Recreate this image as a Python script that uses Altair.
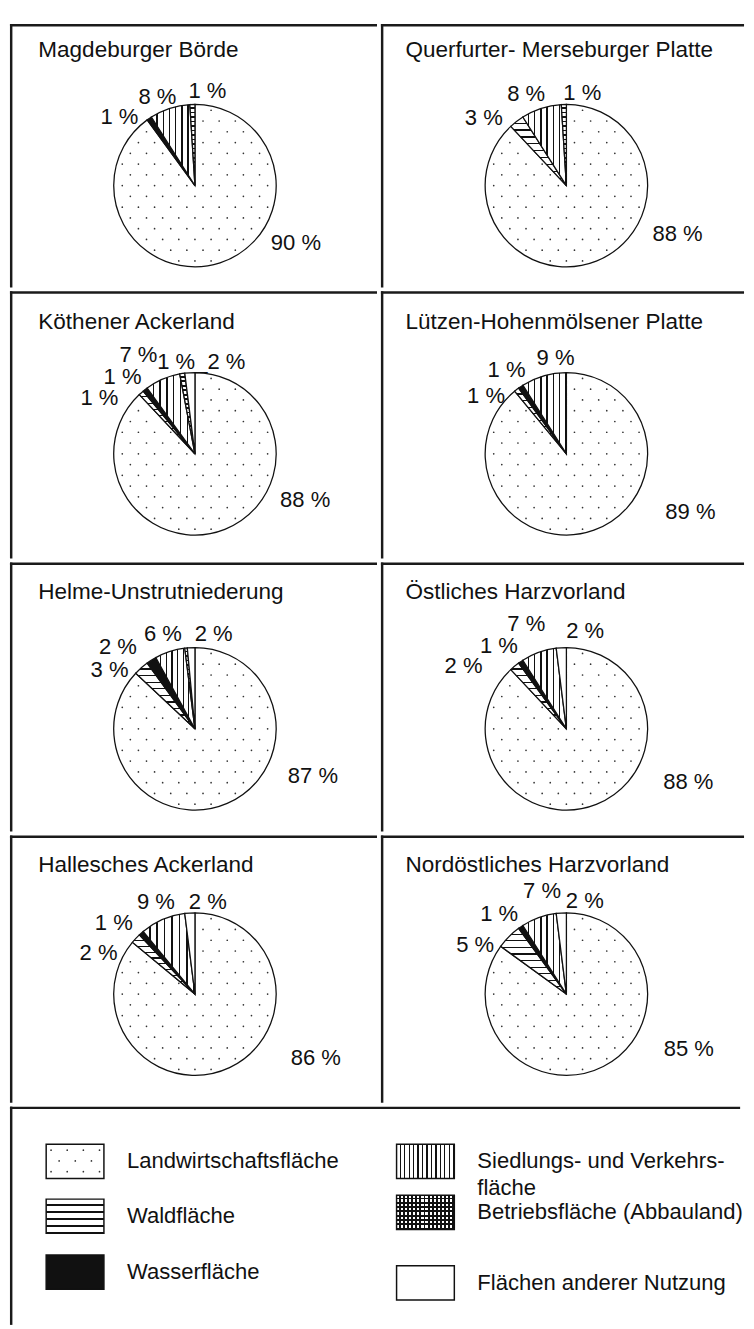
import altair as alt
import pandas as pd

FONT = "Liberation Sans"

regions = [
    "Magdeburger Börde",
    "Querfurter- Merseburger Platte",
    "Köthener Ackerland",
    "Lützen-Hohenmölsener Platte",
    "Helme-Unstrutniederung",
    "Östliches Harzvorland",
    "Hallesches Ackerland",
    "Nordöstliches Harzvorland",
]

categories = [
    "Landwirtschaftsfläche",
    "Waldfläche",
    "Wasserfläche",
    "Siedlungs- und Verkehrsfläche",
    "Betriebsfläche (Abbauland)",
    "Flächen anderer Nutzung",
]

legend_texts = [
    "Landwirtschaftsfläche",
    "Waldfläche",
    "Wasserfläche",
    "Siedlungs- und Verkehrs-\nfläche",
    "Betriebsfläche (Abbauland)",
    "Flächen anderer Nutzung",
]

# shares in percent, in category order
values = {
    "Magdeburger Börde":              [90, 0, 1, 8, 1, 0],
    "Querfurter- Merseburger Platte": [88, 3, 0, 8, 1, 0],
    "Köthener Ackerland":             [88, 1, 1, 7, 1, 2],
    "Lützen-Hohenmölsener Platte":    [89, 1, 1, 9, 0, 0],
    "Helme-Unstrutniederung":         [87, 3, 2, 6, 0.5, 1.5],
    "Östliches Harzvorland":          [88, 2, 1, 7, 0, 2],
    "Hallesches Ackerland":           [86, 2, 1, 9, 0, 2],
    "Nordöstliches Harzvorland":      [85, 5, 1, 7, 0, 2],
}

labels = {
    "Magdeburger Börde":              ["90 %", "", "1 %", "8 %", "1 %", ""],
    "Querfurter- Merseburger Platte": ["88 %", "3 %", "", "8 %", "1 %", ""],
    "Köthener Ackerland":             ["88 %", "1 %", "1 %", "7 %", "1 %", "_2 %"],
    "Lützen-Hohenmölsener Platte":    ["89 %", "1 %", "1 %", "9 %", "", ""],
    "Helme-Unstrutniederung":         ["87 %", "3 %", "2 %", "6 %", "", "2 %"],
    "Östliches Harzvorland":          ["88 %", "2 %", "1 %", "7 %", "", "2 %"],
    "Hallesches Ackerland":           ["86 %", "2 %", "1 %", "9 %", "", "2 %"],
    "Nordöstliches Harzvorland":      ["85 %", "5 %", "1 %", "7 %", "", "2 %"],
}

# label placement (angle in percent of the circle, distance from centre in px)
label_layout = {
    "Magdeburger Börde":              [(33.3, 119), None, (86.7, 104), (93.6, 98), (2.1, 97), None],
    "Querfurter- Merseburger Platte": [(31.6, 124), (85.9, 109), None, (93.4, 102), (2.7, 96), None],
    "Köthener Ackerland":             [(31.3, 122), (83.4, 113), (88.0, 108), (91.7, 116), (96.8, 96), (4.3, 97)],
    "Lützen-Hohenmölsener Platte":    [(32.0, 140), (84.9, 101), (90.1, 105), (98.2, 98), None, None],
    "Helme-Unstrutniederung":         [(31.1, 130), (84.6, 106), (88.0, 115), (94.8, 102), None, (3.1, 99)],
    "Östliches Harzvorland":          [(31.6, 136), (83.7, 123), (89.1, 109), (94.2, 115), None, (3.0, 102)],
    "Hallesches Ackerland":           [(32.8, 140), (81.4, 107), (86.4, 110), (93.6, 102), None, (2.2, 95)],
    "Nordöstliches Harzvorland":      [(31.7, 137), (82.9, 106), (88.9, 107), (96.3, 108), None, (3.1, 97)],
}

rows = []
for reg in regions:
    for k, cat in enumerate(categories):
        lay = label_layout[reg][k]
        rows.append({
            "region": reg, "cat": cat, "k": k,
            "value": values[reg][k],
            "label": labels[reg][k],
            "lpos": lay[0] if lay else 0,
            "lrad": lay[1] if lay else 0,
        })
df = pd.DataFrame(rows)

# panel layout
COL_W = [375, 371]
COL_CX = [189, 189.5]
COL_TITLE_X = [29, 25]
ROW_H = [269, 273, 275, 273]
ROW_CY = [165, 166, 170, 162]
ROW_TITLE_Y = [34, 38, 37, 37]
R = 83
SW = 2.5
LINE = "#1a1a1a"
INK = "#111111"


def stripes(along_x, n, frac, bg="white"):
    stops = []
    for i in range(n):
        a = i / n
        b = (i + 1 - frac) / n
        c = (i + 1) / n
        stops += [
            {"offset": a, "color": bg},
            {"offset": b, "color": bg},
            {"offset": b, "color": INK},
            {"offset": c, "color": INK},
        ]
    return {
        "gradient": "linear",
        "x1": 0, "y1": 0,
        "x2": 1 if along_x else 0,
        "y2": 0 if along_x else 1,
        "stops": stops,
    }


def fill_spec(wald, sied, betr):
    return {
        "condition": [
            {"test": "datum.k === 1", "value": wald},
            {"test": "datum.k === 2", "value": INK},
            {"test": "datum.k === 3", "value": sied},
            {"test": "datum.k === 4", "value": betr},
        ],
        "value": "white",
    }


theta_scale = alt.Scale(domain=[0, 100])
pie_fill = fill_spec(stripes(False, 10, 0.18), stripes(True, 7, 0.2), stripes(False, 18, 0.4))

# dotted texture of the agricultural share (pattern grid)
DOT_COLS, DOT_ROWS, DOT_SX, DOT_SY = 12, 17, 16.5, 11


def frame(w, h, data):
    left = alt.Chart(data).mark_rule(strokeWidth=SW, color=LINE).encode(
        x=alt.value(SW / 2), y=alt.value(0), y2=alt.value(h)
    ).transform_aggregate(n="count()")
    top = alt.Chart(data).mark_rule(strokeWidth=SW, color=LINE).encode(
        x=alt.value(0), x2=alt.value(w), y=alt.value(SW / 2)
    ).transform_aggregate(n="count()")
    return [left, top]


def panel(reg, col, row):
    sel = alt.FieldEqualPredicate(field="region", equal=reg)
    landw_deg = values[reg][0] * 3.6
    cx, cy, w, h = COL_CX[col], ROW_CY[row], COL_W[col], ROW_H[row]

    arcs = alt.Chart(df).mark_arc(radius=R, stroke=INK, strokeWidth=1.3).encode(
        theta=alt.Theta("start:Q", stack=False, scale=theta_scale),
        theta2=alt.Theta2("end:Q"),
        x=alt.value(cx),
        y=alt.value(cy),
        fill=pie_fill,
    ).transform_filter(sel).transform_window(
        end="sum(value)", sort=[alt.SortField("k")], frame=[None, 0]
    ).transform_calculate(
        start="datum.end - datum.value"
    ).transform_filter("datum.value > 0")

    dots = alt.Chart(alt.sequence(0, DOT_COLS * DOT_ROWS, as_="i")).mark_circle(
        size=3, color="#333", opacity=1
    ).encode(
        x=alt.X("px:Q", scale=None, axis=None),
        y=alt.Y("py:Q", scale=None, axis=None),
    ).transform_calculate(
        row=f"floor(datum.i / {DOT_COLS})", col=f"datum.i % {DOT_COLS}"
    ).transform_calculate(
        dx=f"-90.75 + datum.col * {DOT_SX} + (datum.row % 2) * {DOT_SX / 2}",
        dy=f"-88 + datum.row * {DOT_SY}",
    ).transform_calculate(
        rr="sqrt(datum.dx * datum.dx + datum.dy * datum.dy)",
        ang="(atan2(datum.dx, -datum.dy) * 180 / PI + 360) % 360",
        px=f"datum.dx + {cx}",
        py=f"datum.dy + {cy}",
    ).transform_filter(
        f"datum.rr < {R - 3} && datum.rr > 5 && datum.ang > 2 && datum.ang < {landw_deg - 3}"
    )

    pct = alt.Chart(df).mark_text(fontSize=22.5, font=FONT, color=INK).encode(
        theta=alt.Theta("lpos:Q", stack=False, scale=theta_scale),
        radius=alt.Radius("lrad:Q", scale=None),
        text="label:N",
        x=alt.value(cx),
        y=alt.value(cy),
    ).transform_filter(sel).transform_filter("datum.label != ''")

    title = alt.Chart(df).mark_text(
        align="left", baseline="alphabetic", fontSize=23, font=FONT, color=INK
    ).encode(
        x=alt.value(COL_TITLE_X[col]), y=alt.value(ROW_TITLE_Y[row]), text="region:N"
    ).transform_filter(sel).transform_aggregate(n="count()", groupby=["region"])

    return alt.layer(arcs, dots, pct, title, *frame(w, h, df)).properties(
        width=w, height=h
    )


grid_rows = []
for r in range(4):
    grid_rows.append(
        alt.hconcat(panel(regions[2 * r], 0, r), panel(regions[2 * r + 1], 1, r), spacing=0)
    )

# legend box
LW, LH = sum(COL_W), 223
BOX_W, BOX_H = 59, 35
legend_box_x = [37, 37, 37, 395, 395, 395]
legend_row_y = [56, 112, 169, 56, 108, 180]
leg_df = pd.DataFrame({
    "cat": categories,
    "k": list(range(6)),
    "ltext": legend_texts,
    "lx": legend_box_x,
    "ly": legend_row_y,
})

box_tf = dict(
    x0="datum.lx", x1=f"datum.lx + {BOX_W}",
    y0=f"datum.ly - {BOX_H / 2}", y1=f"datum.ly + {BOX_H / 2}",
)

leg_rects = alt.Chart(leg_df).mark_rect(stroke=INK, strokeWidth=1.5).encode(
    x=alt.X("x0:Q", scale=None, axis=None),
    x2="x1:Q",
    y=alt.Y("y0:Q", scale=None, axis=None),
    y2="y1:Q",
    fill=fill_spec(stripes(False, 5, 0.22), stripes(True, 13, 0.3), stripes(True, 14, 0.45)),
).transform_calculate(**box_tf)

leg_cross = alt.Chart(leg_df).mark_rect().encode(
    x=alt.X("x0:Q", scale=None, axis=None),
    x2="x1:Q",
    y=alt.Y("y0:Q", scale=None, axis=None),
    y2="y1:Q",
    fill=alt.value(stripes(False, 8, 0.45, bg="rgba(255,255,255,0)")),
).transform_filter("datum.k === 4").transform_calculate(**box_tf)

leg_dots = alt.Chart(alt.sequence(0, 12, as_="i")).mark_circle(
    size=3, color="#333", opacity=1
).encode(
    x=alt.X("px:Q", scale=None, axis=None),
    y=alt.Y("py:Q", scale=None, axis=None),
).transform_calculate(
    row="floor(datum.i / 4)", col="datum.i % 4"
).transform_calculate(
    px=f"{legend_box_x[0]} + 5 + datum.col * {DOT_SX} + (datum.row % 2) * {DOT_SX / 2}",
    py=f"{legend_row_y[0] - BOX_H / 2} + 6 + datum.row * {DOT_SY}",
).transform_filter(f"datum.px < {legend_box_x[0] + BOX_W - 3}")

leg_text = alt.Chart(leg_df).mark_text(
    align="left", baseline="middle", fontSize=22.5, font=FONT, color=INK,
    lineBreak="\n", lineHeight=27,
).encode(
    x=alt.X("tx:Q", scale=None, axis=None),
    y=alt.Y("ly:Q", scale=None, axis=None),
    text="ltext:N",
).transform_calculate(tx="datum.lx + 82.5")

legend = alt.layer(leg_rects, leg_cross, leg_dots, leg_text, *frame(LW, LH, leg_df)).properties(
    width=LW, height=LH
)

chart = alt.vconcat(*grid_rows, legend, spacing=0).properties(
    padding=0,
    background="white",
).configure_view(strokeWidth=0).configure_text(font=FONT)

chart.save("out.html", embed_options={"renderer": "svg", "actions": False})
